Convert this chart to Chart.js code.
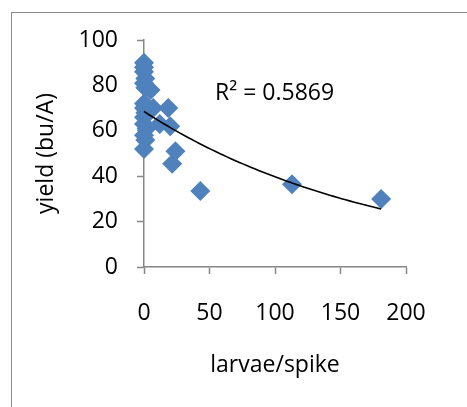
<!DOCTYPE html>
<html>
<head>
<meta charset="utf-8">
<script src="https://cdn.jsdelivr.net/npm/chart.js@4.4.1/dist/chart.umd.min.js"></script>
<style>
  html, body { margin: 0; padding: 0; background: #fff; overflow: hidden; }
  #wrap { position: relative; width: 467px; height: 407px; }
  #frame { position: absolute; left: 11px; top: 12px; width: 480px; height: 420px; border: 1.5px solid #8c8c8c; }
  canvas { position: absolute; left: 0; top: 0; }
</style>
</head>
<body>
<div id="wrap">
  <div id="frame"></div>
  <canvas id="chart" width="467" height="407"></canvas>
</div>
<script>
// values
const larvae = [0, 0, 0, 1, 0, 1, 5, 0, 0, 1, 0, 0, 2, 0, 1, 0, 7, 12, 18.5, 20, 24, 21.5, 43, 113, 181];
const yieldBuA = [90, 88, 86, 83, 81, 79, 78, 72, 70, 68, 66, 63, 61, 58, 56, 52, 70, 63, 70, 62, 51, 45.5, 33.5, 36.5, 30];
const xTicks = [0, 50, 100, 150, 200];
const yTicks = [0, 20, 40, 60, 80, 100];
const rSquaredLabel = 'R\u00b2 = 0.5869';

const FONT = '"Open Sans", "Liberation Sans", sans-serif';
const AXIS_GREY = '#868686';

// exponential trendline y = a*e^(bx), fitted on ln(y) the way Excel does it
function expFit(xs, ys) {
  const n = xs.length;
  const ly = ys.map(Math.log);
  const mx = xs.reduce((s, v) => s + v, 0) / n;
  const my = ly.reduce((s, v) => s + v, 0) / n;
  let sxx = 0, sxy = 0;
  xs.forEach((x, i) => {
    sxx += (x - mx) * (x - mx);
    sxy += (x - mx) * (ly[i] - my);
  });
  const b = sxy / sxx;
  return { a: Math.exp(my - b * mx), b: b };
}

const fit = expFit(larvae, yieldBuA);
const xMin = Math.min(...larvae), xMax = Math.max(...larvae);
const trend = [];
for (let i = 0; i <= 60; i++) {
  const x = xMin + (xMax - xMin) * i / 60;
  trend.push({ x: x, y: fit.a * Math.exp(fit.b * x) });
}

const rSquaredText = {
  id: 'rSquaredText',
  afterDatasetsDraw(chart) {
    const { ctx, chartArea } = chart;
    ctx.save();
    ctx.font = '23px ' + FONT;
    ctx.fillStyle = '#000';
    ctx.textBaseline = 'middle';
    ctx.fillText(rSquaredLabel, chartArea.left + 71, 93);
    ctx.restore();
  }
};

new Chart(document.getElementById('chart'), {
  type: 'scatter',
  data: {
    datasets: [
      {
        data: trend,
        showLine: true,
        borderColor: '#000',
        borderWidth: 1.6,
        pointRadius: 0,
        tension: 0,
        clip: false
      },
      {
        data: larvae.map((x, i) => ({ x: x, y: yieldBuA[i] })),
        pointStyle: 'rectRot',
        pointRadius: 10,
        pointHoverRadius: 10,
        backgroundColor: '#4F81BD',
        borderWidth: 0,
        clip: false
      }
    ]
  },
  options: {
    responsive: false,
    animation: false,
    devicePixelRatio: 1,
    layout: { padding: { top: 40, right: 61, left: 0, bottom: 0 } },
    plugins: { legend: { display: false }, tooltip: { enabled: false } },
    scales: {
      x: {
        type: 'linear',
        min: xTicks[0],
        max: xTicks[xTicks.length - 1],
        afterBuildTicks: s => { s.ticks = xTicks.map(v => ({ value: v })); },
        afterFit: s => { s.height = 140; },
        ticks: { padding: 26, color: '#000', font: { family: FONT, size: 23 } },
        grid: { drawOnChartArea: false, drawTicks: true, tickLength: 7, tickColor: AXIS_GREY, tickWidth: 1.5 },
        border: { color: AXIS_GREY, width: 1.5 },
        title: { display: true, text: 'larvae/spike', color: '#000', font: { family: FONT, size: 23 }, padding: { top: 0, bottom: 28 } }
      },
      y: {
        type: 'linear',
        min: yTicks[0],
        max: yTicks[yTicks.length - 1],
        afterBuildTicks: s => { s.ticks = yTicks.map(v => ({ value: v })); },
        afterFit: s => { s.width = 144; },
        ticks: { padding: 19, color: '#000', font: { family: FONT, size: 23 } },
        grid: { drawOnChartArea: false, drawTicks: true, tickLength: 7, tickColor: AXIS_GREY, tickWidth: 1.5 },
        border: { color: AXIS_GREY, width: 1.5 },
        title: { display: true, text: 'yield (bu/A)', color: '#000', font: { family: FONT, size: 23 }, padding: { top: 33, bottom: 0 } }
      }
    }
  },
  plugins: [rSquaredText]
});
</script>
</body>
</html>
